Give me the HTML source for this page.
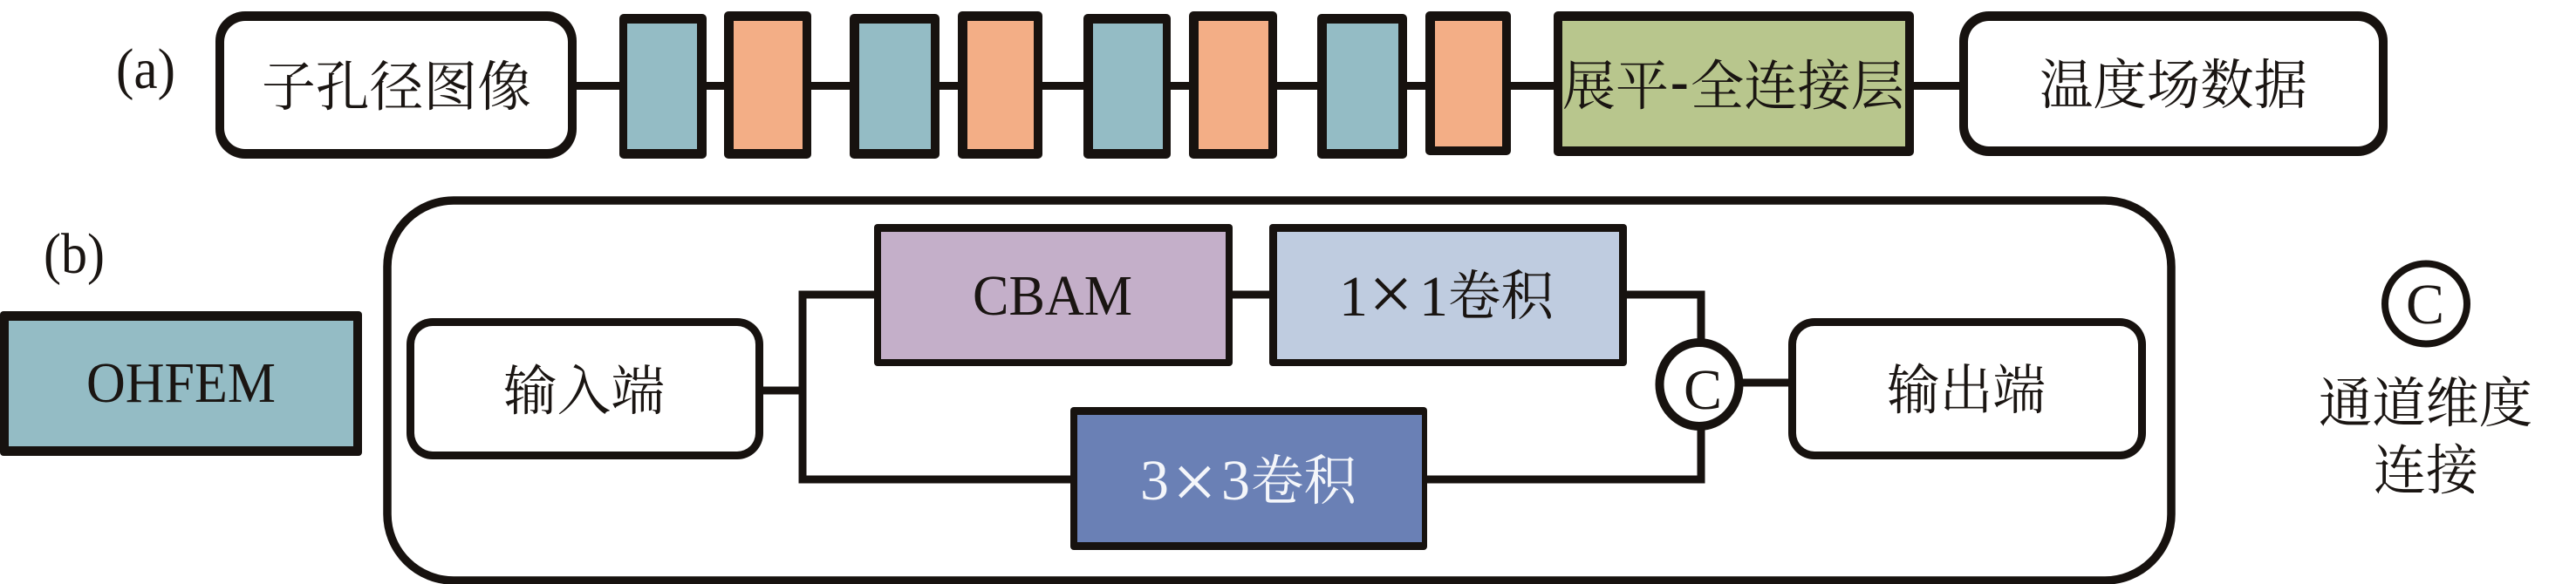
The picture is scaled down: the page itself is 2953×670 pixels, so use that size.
<!DOCTYPE html>
<html lang="zh"><head><meta charset="utf-8"><title>OHFEM diagram</title>
<style>
html,body{margin:0;padding:0;background:#fff;width:2953px;height:670px;overflow:hidden}
svg{display:block}
text{font-family:"Liberation Serif","Noto Serif CJK SC",serif;font-size:62px;fill:#1a1512}
.l{font-size:66px}
.x{font-size:90px}
.w{fill:#f4f6fa}
</style></head><body>
<svg width="2953" height="670" viewBox="0 0 2953 670" xmlns="http://www.w3.org/2000/svg">
<rect width="2953" height="670" fill="#fff"/>
<!-- connectors (a) -->
<rect x="655" y="94" width="1600" height="9" fill="#17120f"/>
<!-- (a) row -->
<rect x="247" y="13" width="414" height="169" rx="34" fill="#17120f"/>
<rect x="257" y="24" width="394" height="147" rx="24" fill="#fff"/>
<rect x="710" y="16" width="100" height="166" rx="5" fill="#17120f"/><rect x="719" y="27" width="80" height="144" fill="#94bcc5"/>
<rect x="830" y="13" width="100" height="169" rx="5" fill="#17120f"/><rect x="841" y="24" width="79" height="147" fill="#f3ae86"/>
<rect x="974" y="16" width="103" height="166" rx="5" fill="#17120f"/><rect x="985" y="27" width="82" height="144" fill="#94bcc5"/>
<rect x="1098" y="13" width="97" height="169" rx="5" fill="#17120f"/><rect x="1109" y="24" width="76" height="147" fill="#f3ae86"/>
<rect x="1242" y="16" width="100" height="166" rx="5" fill="#17120f"/><rect x="1253" y="27" width="80" height="144" fill="#94bcc5"/>
<rect x="1363" y="13" width="101" height="169" rx="5" fill="#17120f"/><rect x="1374" y="24" width="80" height="147" fill="#f3ae86"/>
<rect x="1510" y="16" width="103" height="166" rx="5" fill="#17120f"/><rect x="1521" y="27" width="82" height="144" fill="#94bcc5"/>
<rect x="1634" y="13" width="98" height="165" rx="5" fill="#17120f"/><rect x="1645" y="24" width="77" height="144" fill="#f3ae86"/>
<rect x="1781" y="13" width="413" height="166" rx="5" fill="#17120f"/><rect x="1791" y="24" width="393" height="144" fill="#b8c68d"/>
<rect x="2246" y="13" width="491" height="166" rx="34" fill="#17120f"/>
<rect x="2256" y="24" width="471" height="144" rx="24" fill="#fff"/>
<text class="l" x="133" y="101" textLength="68" lengthAdjust="spacingAndGlyphs">(a)</text>
<text x="300" y="121" textLength="309" lengthAdjust="spacingAndGlyphs">子孔径图像</text>
<text x="1791" y="120" textLength="122" lengthAdjust="spacingAndGlyphs">展平</text>
<text x="1915" y="114" font-weight="bold">-</text>
<text x="1938" y="120" textLength="245" lengthAdjust="spacingAndGlyphs">全连接层</text>
<text x="2338" y="119" textLength="307" lengthAdjust="spacingAndGlyphs">温度场数据</text>
<!-- (b) -->
<text class="l" x="50" y="313" textLength="70" lengthAdjust="spacingAndGlyphs">(b)</text>
<rect x="0" y="357" width="415" height="166" rx="4" fill="#17120f"/><rect x="10" y="368" width="395" height="144" fill="#94bcc5"/>
<text class="l" x="99" y="461" textLength="217" lengthAdjust="spacingAndGlyphs">OHFEM</text>
<rect x="444" y="230" width="2045" height="436" rx="76" fill="#fff" stroke="#17120f" stroke-width="9.5"/>
<!-- connectors (b) -->
<g fill="none" stroke="#17120f" stroke-width="9">
<path d="M870 448H920M920 333.500V554.500M915.500 338H1010M915.500 550H1230M1410 338H1460M1860 338H1950V400M1630 550H1950V490"/>
<path d="M1990 439H2056"/>
</g>
<rect x="466" y="365" width="409" height="162" rx="30" fill="#17120f"/>
<rect x="475" y="374" width="391" height="144" rx="21" fill="#fff"/>
<text x="577" y="470" textLength="185" lengthAdjust="spacingAndGlyphs">输入端</text>
<rect x="1002" y="257" width="411" height="163" rx="4" fill="#17120f"/><rect x="1010" y="266" width="395" height="146" fill="#c4afc9"/>
<text class="l" x="1115" y="361" textLength="183" lengthAdjust="spacingAndGlyphs">CBAM</text>
<rect x="1455" y="257" width="410" height="163" rx="4" fill="#17120f"/><rect x="1464" y="266" width="392" height="146" fill="#bfcce0"/>
<text class="l" x="1535" y="362">1</text>
<text class="x" x="1569" y="367">×</text>
<text class="l" x="1627" y="362">1</text>
<text x="1660" y="361" textLength="121" lengthAdjust="spacingAndGlyphs">卷积</text>
<rect x="1227" y="467" width="409" height="164" rx="4" fill="#17120f"/><rect x="1235" y="476" width="395" height="146" fill="#6a80b5"/>
<text class="l w" x="1307" y="573">3</text>
<text class="x w" x="1344" y="583">×</text>
<text class="l w" x="1400" y="573">3</text>
<text class="w" x="1434" y="573" textLength="121" lengthAdjust="spacingAndGlyphs">卷积</text>
<ellipse cx="1948" cy="441" rx="45.500" ry="48" fill="#fff" stroke="#17120f" stroke-width="10"/>
<text class="l" x="1930" y="469">C</text>
<rect x="2050" y="365" width="410" height="162" rx="30" fill="#17120f"/>
<rect x="2059" y="374" width="392" height="144" rx="21" fill="#fff"/>
<text x="2163" y="469" textLength="182" lengthAdjust="spacingAndGlyphs">输出端</text>
<!-- legend -->
<ellipse cx="2781" cy="348.500" rx="47" ry="46" fill="#fff" stroke="#17120f" stroke-width="8"/>
<text class="l" x="2758" y="371">C</text>
<text x="2658" y="484" textLength="245" lengthAdjust="spacingAndGlyphs">通道维度</text>
<text x="2721" y="561" textLength="120" lengthAdjust="spacingAndGlyphs">连接</text>
</svg>
</body></html>
